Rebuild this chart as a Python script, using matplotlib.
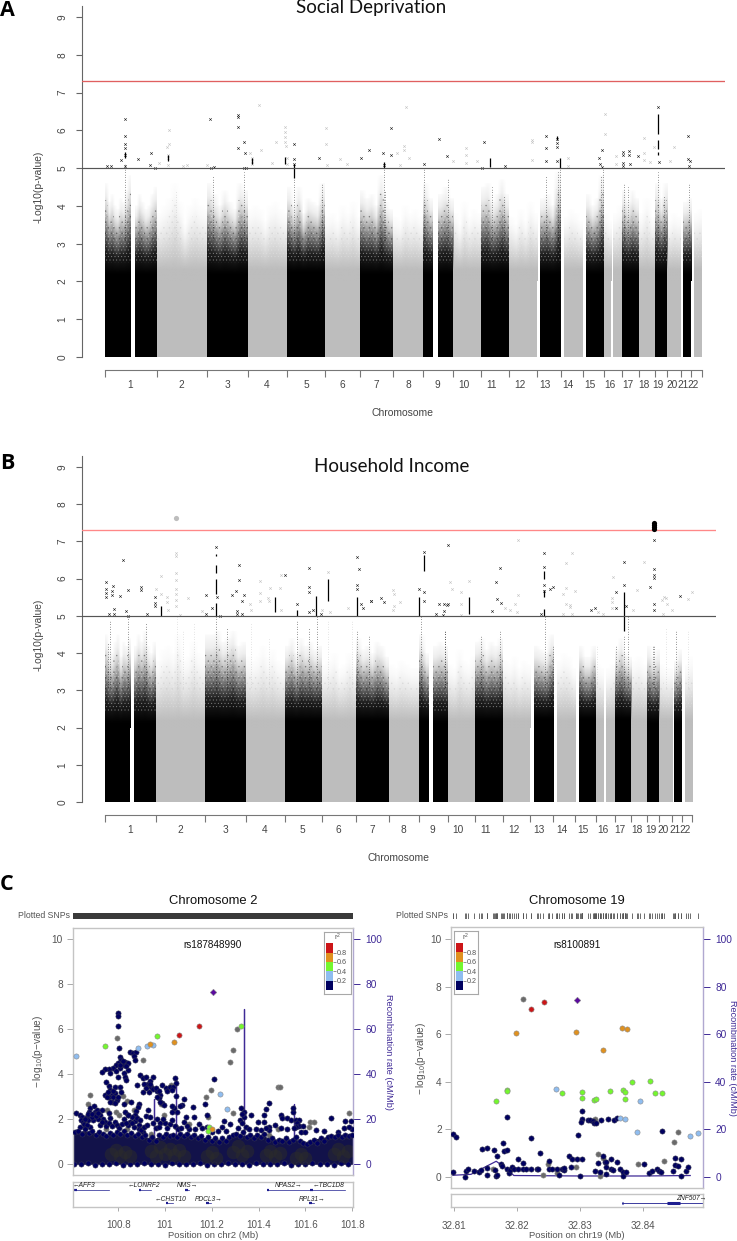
import matplotlib
matplotlib.use("Agg")
import matplotlib.pyplot as plt
import numpy as np
from matplotlib.colors import ListedColormap, BoundaryNorm, to_rgb

W, H = 737, 1241
plt.rcParams['font.family'] = ['Liberation Sans', 'DejaVu Sans']
plt.rcParams['mathtext.default'] = 'regular'
plt.rcParams['hatch.linewidth'] = 0.3

# ---------- Manhattan data ----------
chrom_labels = [str(i) for i in range(1, 23)]
A_bounds = [105, 156.7, 207, 248, 287.3, 325, 360.3, 393.3, 423.3, 453, 480.7, 508.7, 537, 560.7, 583, 603.7, 622.3, 639.3, 655, 667.3, 680.7, 691, 701.7]
A_label_x = [130, 181, 227, 267, 306, 342.3, 376, 408, 437.7, 463.7, 491.3, 519.7, 545.3, 568.3, 590, 610, 627.7, 644.3, 658.3, 671.7, 683.3, 693.3]
A_seg_start = [105, 134.7, 156.7, 207, 248, 287.3, 325, 360.3, 393.3, 423.3, 437.7, 453, 480.7, 508.7, 540.3, 564, 586.3, 603.7, 613, 622.3, 639.3, 655, 667.3, 682.7, 693.7]
A_seg_end = [130.7, 156.7, 207, 248, 287.3, 325, 360.3, 393.3, 423.3, 433.3, 453, 480.7, 508.7, 537, 560.7, 583, 603.7, 611.3, 622.3, 639.3, 655, 667.3, 681, 691, 701.7]
A_seg_dark = [1, 1, 0, 1, 0, 1, 0, 1, 0, 1, 1, 0, 1, 0, 1, 0, 1, 0, 0, 1, 0, 1, 0, 1, 0]
A_solid = [2.2, 2.2, 2.3, 2.2, 2.3, 2.25, 2.3, 2.2, 2.3, 2.2, 2.2, 2.3, 2.2, 2.3, 2.2, 2.3, 2.2, 2.3, 2.3, 2.2, 2.3, 2.2, 2.3, 2.2, 2.3]
A_tops = [[4.6, 4.1, 4.3, 4.0, 3.9, 4.2, 4.1, 4.4, 4.8], [4.0, 4.3, 4.1, 3.9, 4.0, 4.3, 4.5],
          [3.8, 4.0, 4.2, 4.6, 4.1, 3.5, 4.0, 4.2, 4.0, 3.9], [4.6, 4.3, 4.0, 4.4, 4.1, 3.9, 4.6, 4.4],
          [3.9, 4.0, 3.9, 3.6, 4.0, 4.1, 3.9, 3.8], [4.5, 4.0, 4.5, 3.8, 4.2, 4.1, 4.0, 4.6],
          [3.7, 3.8, 3.6, 4.0, 3.8, 4.1, 3.7], [4.4, 4.2, 4.3, 4.0, 4.8, 4.1, 3.9],
          [3.7, 3.6, 4.0, 3.8, 3.9, 3.7], [4.6, 4.2], [4.3, 4.5, 4.2],
          [3.8, 3.5, 4.1, 3.7, 3.9, 3.8], [4.5, 4.6, 4.1, 4.3, 4.7, 4.3], [3.7, 3.5, 3.9, 3.6, 4.1, 3.8],
          [4.2, 4.3, 4.0, 4.9], [3.7, 3.9, 3.8, 3.6], [4.3, 4.0, 4.2, 4.8], [3.8, 3.6], [3.8, 4.0],
          [4.4, 4.1, 4.4, 4.2], [3.8, 4.2, 3.7], [4.6, 4.2, 4.6], [3.6, 3.8, 3.7], [4.1, 4.2], [3.8, 3.9]]
A_spike_x = [125, 213, 244, 294.3, 322, 384, 384.7, 424, 448, 492, 504, 546, 558, 559.8, 601, 603, 624, 628, 658, 664, 689, 176]
A_spike_y = [5.1, 4.8, 4.9, 5.0, 4.6, 5.0, 4.4, 5.0, 4.7, 4.5, 4.3, 4.8, 4.9, 5.0, 4.8, 5.0, 4.6, 4.5, 4.9, 4.3, 4.6, 4.4]
A_black = [(107.3, 5.05), (110.7, 5.05), (121.3, 5.21), (125, 6.29), (125, 5.85), (125, 5.65), (125, 5.54), (125, 5.34), (125, 5.06), (138.3, 5.23), (150, 5.09), (151.3, 5.41), (155, 5.0), (210.3, 6.29), (211.3, 5.01), (214, 5.02), (238, 6.4), (238, 6.34), (238, 6.09), (238, 5.52), (244, 5.7), (245, 5.41), (244.3, 5.01), (245.7, 5.0), (294.3, 5.63), (294.3, 5.25), (294.3, 5.12), (318.7, 5.28), (361.3, 5.28), (369, 5.47), (383.3, 5.4), (391, 6.07), (384, 5.08), (391, 5.35), (424.3, 5.1), (438.7, 5.76), (447.3, 5.31), (481.7, 5.0), (484.3, 5.7), (505, 5.05), (545.7, 5.85), (545.7, 5.53), (545.7, 5.18), (556.7, 5.78), (556.7, 5.67), (556.7, 5.56), (556.7, 5.18), (599, 5.27), (602, 5.48), (600.3, 5.12), (602, 5.04), (623, 5.43), (623, 5.34), (623, 5.14), (623, 5.05), (628.7, 5.46), (628.7, 5.34), (630, 5.1), (638, 5.33), (657.7, 6.62), (659, 5.15), (688, 5.85), (688.3, 5.23), (690, 5.2), (689.3, 5.05)]
A_grey = [(259.3, 6.68), (261, 5.48), (275.7, 5.7), (271.7, 5.14), (250, 5.39), (252, 5.26), (252, 5.19), (252, 5.12), (168.7, 6.0), (168.7, 5.63), (167.3, 5.55), (167.7, 5.36), (167.7, 5.28), (167.7, 5.08), (158.7, 5.13), (182.7, 5.05), (186.7, 5.08), (207, 5.07), (285.3, 6.09), (285.3, 5.96), (285.3, 5.83), (285.3, 5.7), (286, 5.58), (286.7, 5.28), (286.7, 5.12), (326.3, 6.07), (326.3, 5.65), (326.7, 5.08), (340, 5.23), (346.7, 5.1), (406, 6.62), (404.3, 5.59), (404.3, 5.48), (409.3, 5.28), (396.7, 5.4), (400, 5.08), (453.3, 5.2), (466, 5.52), (466, 5.34), (466, 5.14), (477.3, 5.18), (532.3, 5.74), (532.3, 5.68), (532, 5.21), (568.3, 5.26), (568.3, 5.06), (605, 6.44), (605, 5.89), (615.7, 5.33), (615.7, 5.11), (644, 5.79), (644, 5.39), (644, 5.21), (650, 5.15), (673.7, 5.56), (670.3, 5.18), (654.3, 5.55)]
A_col_x = [125, 294.3, 384, 490, 556.7, 560, 657.7, 657.7, 657.7, 284.7, 252, 167.7]
A_col_lo = [5.27, 4.75, 5.0, 5.02, 5.74, 5.0, 5.9, 5.5, 5.35, 5.1, 5.12, 5.2]
A_col_hi = [5.42, 5.1, 5.15, 5.27, 5.85, 5.27, 6.44, 5.74, 5.43, 5.3, 5.26, 5.36]

B_bounds = [105, 155.7, 205.3, 245.7, 284.7, 321.7, 356.3, 389, 418.7, 447.7, 475.3, 502.7, 530, 553.3, 575.3, 596.3, 614.7, 631.3, 647, 659.3, 672.3, 682, 692.3]
B_label_x = [130, 180, 225, 264.7, 302.7, 338.7, 372.3, 403.3, 432.7, 458.3, 485.7, 513.7, 539, 561.7, 582.7, 602.7, 620, 636.7, 650.7, 663.3, 675, 685]
B_seg_start = [105, 134, 155.7, 205.3, 245.7, 284.7, 321.7, 356.3, 389, 418.7, 432.7, 447.7, 475.3, 502.7, 534, 557.3, 579.3, 596.3, 606, 614.7, 631.3, 647, 659.3, 674.3, 685]
B_seg_end = [130, 155.7, 205.3, 245.7, 284.7, 321.7, 356.3, 389, 418.7, 428.7, 447.7, 475.3, 502.7, 530, 554, 575.7, 596.3, 603.7, 614.7, 631.3, 647, 659.3, 672.7, 682.3, 692.7]
B_seg_dark = [1, 1, 0, 1, 0, 1, 0, 1, 0, 1, 1, 0, 1, 0, 1, 0, 1, 0, 0, 1, 0, 1, 0, 1, 0]
B_solid = [2.15, 2.15, 2.2, 2.2, 2.2, 2.2, 2.2, 2.2, 2.2, 2.2, 2.15, 2.2, 2.2, 2.2, 2.25, 2.2, 2.25, 2.2, 2.2, 2.25, 2.2, 2.15, 2.2, 2.15, 2.2]
B_tops = [[4.5, 4.1, 4.0, 4.3, 4.5, 3.9, 4.3, 4.2, 4.4], [4.2, 4.5, 4.3, 4.6, 4.2, 4.0, 4.3],
          [3.8, 4.1, 4.2, 4.0, 4.5, 3.8, 3.9, 4.3, 4.0, 3.9], [4.5, 4.5, 4.6, 4.3, 4.4, 4.6, 4.2, 4.3],
          [3.9, 3.8, 3.9, 4.2, 3.9, 4.1, 3.8, 3.7], [4.2, 4.4, 4.0, 4.4, 4.2, 4.3, 4.1, 4.2],
          [3.7, 3.8, 4.0, 3.6, 3.7, 4.0, 3.7], [4.4, 4.1, 4.2, 4.0, 4.3, 4.2, 3.9],
          [3.7, 3.6, 3.8, 3.7, 3.6, 3.6], [4.5, 4.0], [4.2, 4.3, 4.2],
          [3.7, 3.6, 4.1, 3.8, 3.7, 3.9], [4.3, 4.4, 4.1, 4.3, 4.2, 4.4], [3.8, 3.7, 3.9, 3.6, 3.8, 3.7],
          [4.2, 4.1, 4.0, 4.5], [3.8, 4.0, 3.9, 3.6], [4.2, 3.9, 3.9, 4.2], [3.7, 3.6], [3.6, 3.7],
          [4.1, 4.4, 4.0, 3.9], [3.8, 3.9, 3.7], [4.2, 3.9, 4.1], [3.7, 3.6, 3.6], [3.8, 4.1], [3.7, 3.9]]
B_spike_x = [128.3, 108, 110, 146, 216, 226.7, 297, 309, 316.7, 357.3, 369, 183, 176.7, 194, 251, 269, 420.5, 445, 445.3, 481, 500, 545, 552.5, 597, 616, 623.7, 628, 653, 654, 666.3, 676, 688, 328, 352]
B_spike_y = [5.0, 4.3, 4.9, 4.8, 5.0, 4.7, 4.9, 4.7, 5.0, 4.6, 4.5, 4.6, 5.0, 4.8, 4.8, 4.4, 5.0, 4.6, 4.6, 4.5, 4.6, 5.0, 4.2, 4.2, 4.2, 4.5, 5.0, 4.2, 4.2, 4.7, 4.6, 4.6, 4.9, 4.9]
B_black = [(106.3, 5.92), (106.3, 5.73), (106.3, 5.62), (106.3, 5.51), (112.7, 5.8), (112, 5.68), (111.7, 5.55), (114, 5.18), (114, 5.06), (109, 5.06), (120, 5.53), (122.7, 6.49), (127.7, 5.7), (126.3, 5.12), (128.3, 5.01), (141, 5.77), (141, 5.7), (146.7, 5.04), (155, 5.51), (155, 5.35), (155, 5.26), (206, 5.57), (206, 5.05), (211.7, 5.2), (215.7, 6.84), (220, 5.0), (217.3, 5.51), (232, 5.57), (235.7, 5.68), (239, 6.38), (239, 5.96), (243.7, 5.55), (242, 5.39), (236.7, 5.14), (236.7, 5.04), (242, 5.04), (285, 6.1), (297.3, 5.33), (308.7, 6.3), (308.7, 5.78), (308.7, 5.65), (309, 5.11), (312.7, 5.16), (321, 5.06), (357, 6.57), (359.3, 6.27), (357, 5.84), (357, 5.72), (360.7, 5.33), (362.7, 5.2), (371, 5.41), (370.7, 5.41), (381.3, 5.49), (384.3, 5.36), (419, 5.71), (423.7, 6.72), (423.7, 5.64), (423.7, 5.41), (435.7, 5.06), (439.3, 5.33), (444, 5.31), (447.7, 5.33), (446.7, 5.29), (444, 5.13), (443.3, 5.02), (447.7, 6.91), (491.7, 5.12), (496, 5.9), (497, 5.45), (500, 6.28), (501, 5.35), (541, 5.06), (544.3, 6.68), (544.3, 6.32), (544.3, 5.82), (544.3, 5.68), (550.3, 5.73), (552.7, 5.77), (590.7, 5.15), (594.7, 5.22), (616.3, 5.64), (616.3, 5.2), (624.3, 6.45), (624, 5.82), (626.3, 5.26), (650, 5.77), (654, 7.05), (654, 6.25), (654, 6.09), (654, 6.02), (654, 5.32), (654, 5.16), (680.3, 5.54)]
B_grey = [(176.3, 6.7), (176.3, 6.61), (176.3, 6.14), (176.3, 5.96), (176.3, 5.72), (176.3, 5.58), (176.3, 5.42), (176.3, 5.27), (160.7, 6.06), (160.7, 5.6), (156, 5.72), (166.7, 5.51), (166.7, 5.36), (168, 5.15), (187.7, 5.49), (202.3, 5.14), (180, 5.02), (260.3, 5.93), (260.3, 5.62), (260.3, 5.4), (268.3, 5.48), (269, 5.39), (270.3, 5.75), (281, 6.11), (280.3, 5.74), (250, 5.31), (251, 5.17), (280.7, 5.15), (328.3, 6.18), (321.7, 5.17), (330, 5.1), (348.3, 5.2), (518.3, 7.04), (571.7, 6.7), (566, 6.42), (644.3, 6.45), (469, 5.95), (450, 5.91), (451.7, 5.73), (460.7, 5.63), (460.7, 5.33), (461, 5.02), (393.3, 5.69), (394.3, 5.6), (400.3, 5.36), (394, 5.27), (392.7, 5.15), (518.3, 5.56), (505, 5.2), (510, 5.15), (517, 5.1), (515, 5.33), (566, 5.76), (562.7, 5.6), (566.3, 5.33), (570, 5.3), (570, 5.24), (571.7, 5.04), (575, 5.68), (563.3, 5.05), (612.7, 6.05), (612.3, 5.47), (612.3, 5.36), (612.3, 5.2), (633, 5.15), (603.3, 5.04), (598.3, 5.1), (637, 5.69), (661.7, 5.42), (664, 5.51), (666, 5.47), (666.7, 5.31), (671.7, 5.15), (663.3, 5.05), (688, 5.45), (692.3, 5.63)]
B_col_x = [215.7, 215.7, 215.7, 215.7, 297.3, 316.3, 357, 423.7, 419, 544.3, 544.3, 544.3, 624, 654, 160.7, 275, 328.3, 469]
B_col_lo = [6.6, 6.14, 5.6, 5.0, 5.0, 5.0, 5.0, 6.2, 5.0, 5.98, 5.5, 5.0, 4.6, 7.33, 5.0, 5.1, 5.4, 5.05]
B_col_hi = [6.67, 6.38, 6.0, 5.35, 5.16, 5.53, 5.5, 6.63, 5.5, 6.2, 5.7, 5.18, 5.65, 7.5, 5.27, 5.5, 6.0, 5.5]
B_big_x_grey = [176.3]
B_big_y_grey = [7.63]
B_big_x_black = [654, 654, 654, 654]
B_big_y_black = [7.33, 7.38, 7.45, 7.5]

# ---------- Regional (left, chr2) ----------
L_xlim = (100.606, 101.803)
L_diamond = ([101.207], [7.66])
L_red = ([101.147, 101.059], [6.15, 5.76])
L_orange = ([100.935, 101.04, 101.203], [5.36, 5.42, 1.56])
L_green = ([100.742, 100.968, 101.323, 101.19, 101.182], [5.27, 5.72, 6.16, 1.66, 1.48])
L_lblue = ([100.62, 100.885, 100.924, 100.949, 101.237, 101.267], [4.8, 5.15, 5.26, 5.32, 3.11, 2.44])
L_grey = [(100.797, 5.6), (100.907, 4.62), (101.309, 6.01), (101.289, 5.08), (101.278, 4.53), (101.198, 3.29), (101.177, 2.98), (101.481, 3.42), (101.493, 3.44), (101.289, 2.3), (101.787, 2.27), (101.618, 1.9), (101.638, 1.9), (101.617, 1.64), (101.482, 1.59), (101.446, 1.29), (101.183, 2.09), (100.68, 3.08), (100.672, 2.67), (100.752, 2.41), (100.747, 1.59), (100.837, 2.8), (100.82, 3.04), (100.79, 2.31), (100.805, 2.18), (100.867, 2.41), (100.995, 2.21), (101.026, 3.53), (100.984, 2.67), (100.942, 1.26), (101.048, 1.67), (101.102, 1.78), (100.84, 1.55), (100.71, 2.2), (100.94, 1.35)]
L_navy = [(100.801, 6.73), (100.801, 6.6), (100.801, 6.16), (100.804, 5.16), (100.851, 4.98), (100.863, 4.93), (100.877, 5.0), (100.868, 4.83), (100.871, 4.64), (100.806, 4.79), (100.813, 4.64), (100.83, 4.56), (100.801, 4.49), (100.791, 4.41), (100.823, 4.41), (100.844, 4.52), (100.841, 4.19), (100.806, 4.27), (100.78, 4.27), (100.759, 4.22), (100.744, 4.22), (100.733, 4.12), (100.766, 4.04), (100.823, 4.04), (100.801, 3.88), (100.83, 3.9), (100.833, 3.75), (100.747, 3.66), (100.761, 3.48), (100.787, 3.42), (100.809, 3.42), (100.744, 3.08), (100.766, 3.3), (100.773, 3.08), (100.787, 3.15), (100.811, 3.23), (100.759, 2.98), (100.78, 2.98), (100.794, 2.86), (100.773, 2.78), (100.751, 3.0), (100.766, 2.78), (100.787, 2.74), (100.823, 2.7), (100.856, 2.78), (100.894, 3.97), (100.908, 3.82), (100.92, 3.87), (100.948, 3.9), (100.88, 3.51), (100.906, 3.23), (100.926, 3.57), (100.937, 3.72), (100.94, 3.42), (100.93, 3.23), (100.951, 3.34), (100.966, 3.26), (100.987, 3.53), (101.005, 3.38), (101.022, 3.45), (101.044, 3.82), (101.048, 3.6), (101.035, 3.42), (101.048, 3.04), (100.98, 3.08), (100.973, 2.93), (100.987, 2.71), (100.994, 2.64), (100.98, 2.78), (100.966, 3.0), (101.08, 2.89), (101.073, 2.64), (101.051, 2.34), (101.037, 2.49), (101.03, 2.34), (101.065, 2.59), (101.118, 2.56), (101.03, 2.59), (100.929, 2.41), (100.917, 2.15), (100.937, 2.1), (100.891, 2.68), (100.883, 2.53), (100.877, 2.38), (100.871, 2.19), (100.859, 2.12), (100.844, 2.19), (100.83, 2.34), (100.844, 2.19), (100.85, 1.89), (100.873, 1.93), (100.891, 1.74), (100.887, 1.59), (100.866, 1.67), (100.844, 1.74), (100.905, 1.45), (100.898, 1.52), (100.62, 2.3), (100.637, 2.19), (100.644, 2.12), (100.64, 1.97), (100.651, 1.9), (100.665, 2.12), (100.68, 2.49), (100.677, 2.34), (100.699, 2.59), (100.7, 2.34), (100.708, 2.41), (100.722, 2.19), (100.73, 2.41), (100.763, 2.3), (100.766, 2.04), (100.737, 2.0), (100.716, 2.0), (100.694, 1.97), (100.673, 1.97), (100.687, 2.1), (100.744, 1.9), (100.723, 1.75), (100.68, 1.67), (100.659, 1.67), (100.637, 1.67), (100.966, 2.0), (100.951, 1.82), (100.98, 1.85), (101.0, 1.85), (101.023, 1.78), (101.044, 1.7), (101.08, 1.9), (101.123, 2.12), (101.088, 2.09), (101.144, 1.79), (101.17, 2.67), (101.18, 2.19), (101.16, 1.6), (101.18, 1.67), (101.103, 1.55), (101.208, 3.79), (101.254, 1.94), (101.245, 1.67), (101.278, 1.79), (101.325, 2.52), (101.337, 2.34), (101.322, 1.97), (101.33, 1.82), (101.337, 2.1), (101.369, 2.19), (101.422, 2.19), (101.431, 2.44), (101.444, 2.73), (101.397, 1.9), (101.422, 1.9), (101.387, 1.57), (101.408, 1.52), (101.446, 1.67), (101.446, 1.52), (101.472, 1.75), (101.494, 1.6), (101.496, 2.19), (101.501, 2.07), (101.522, 2.07), (101.539, 1.97), (101.548, 2.34), (101.548, 2.49), (101.558, 1.97), (101.572, 1.97), (101.565, 1.82), (101.572, 1.72), (101.558, 1.67), (101.579, 1.45), (101.6, 1.45), (101.644, 1.52), (101.708, 2.07), (101.768, 1.94), (101.793, 1.93), (101.765, 1.6), (101.8, 1.57),
          (100.655, 1.8), (100.668, 1.75), (100.66, 2.0), (100.672, 2.22), (100.69, 2.25), (100.705, 2.15), (100.715, 2.3), (100.73, 1.9), (100.75, 1.72), (100.76, 1.85), (100.775, 1.7), (100.785, 1.9), (100.795, 1.75), (100.805, 1.62), (100.815, 1.8), (100.825, 2.0), (100.835, 1.85), (100.86, 1.85), (100.88, 2.05), (100.895, 1.95), (100.91, 1.65), (100.925, 1.75), (100.96, 1.6), (100.975, 1.65), (100.99, 2.0), (101.01, 1.6), (101.03, 1.95), (101.055, 1.55), (101.07, 1.62), (101.095, 1.7), (101.13, 1.55), (101.2, 1.45), (101.225, 1.5), (101.26, 1.5), (101.31, 1.6), (101.33, 2.25), (101.345, 1.65), (101.36, 1.55), (101.43, 1.62), (101.52, 1.55), (101.55, 1.6), (101.59, 1.72), (101.68, 1.5), (101.74, 1.45), (101.785, 1.65), (100.91, 3.55), (100.92, 3.4), (100.935, 3.55), (100.96, 3.4), (100.975, 3.25), (101.01, 3.25), (101.03, 3.3), (100.78, 3.25), (100.755, 3.2), (100.8, 3.0), (100.81, 4.4), (100.82, 4.6), (100.79, 4.15), (100.835, 4.35)]
L_band_x = [100.606, 100.65, 100.7, 100.75, 100.8, 100.85, 100.9, 100.95, 101.0, 101.05, 101.1, 101.15, 101.2, 101.25, 101.3, 101.35, 101.4, 101.45, 101.5, 101.55, 101.6, 101.65, 101.7, 101.75, 101.803]
L_band_top = [1.4, 1.5, 1.4, 1.3, 1.4, 1.35, 1.25, 1.15, 1.3, 1.3, 1.3, 1.2, 1.15, 1.1, 1.4, 1.25, 1.35, 1.15, 1.1, 1.15, 0.95, 1.15, 1.25, 1.3, 1.35]
L_dark = [(100.77, 0.45), (100.79, 0.65), (100.81, 0.35), (100.83, 0.55), (100.85, 0.35), (100.94, 0.6), (100.96, 0.35), (100.98, 0.75), (101.0, 0.45), (101.02, 0.7), (101.04, 0.4), (101.06, 0.65), (101.08, 0.35), (101.18, 0.35), (101.2, 0.55), (101.22, 0.3), (101.29, 0.55), (101.31, 0.8), (101.33, 0.4), (101.35, 0.6), (101.43, 0.4), (101.45, 0.6), (101.47, 0.35), (101.49, 0.5), (101.56, 0.3), (101.58, 0.45), (101.6, 0.3), (101.72, 0.45), (101.74, 0.7), (101.76, 0.35), (101.78, 0.6)]
L_floor = [(100.612, 0.03), (100.64, 0.0), (100.67, 0.04), (100.7, -0.01), (100.73, 0.03), (100.76, 0.0), (100.79, 0.04), (100.82, -0.01), (100.85, 0.03), (100.88, 0.0), (100.91, 0.04), (100.94, 0.0), (100.97, 0.03), (101.0, -0.01), (101.03, 0.04), (101.06, 0.0), (101.09, 0.03), (101.12, 0.0), (101.15, 0.04), (101.18, -0.01), (101.21, 0.03), (101.24, 0.0), (101.27, 0.04), (101.3, 0.0), (101.33, 0.03), (101.36, -0.01), (101.39, 0.04), (101.42, 0.0), (101.45, 0.03), (101.48, 0.0), (101.51, 0.04), (101.54, -0.01), (101.57, 0.03), (101.6, 0.0), (101.63, 0.04), (101.66, 0.0), (101.69, 0.03), (101.72, -0.01), (101.75, 0.04), (101.78, 0.0)]
L_top = [(100.615, 1.45), (100.63, 1.5), (100.645, 1.35), (100.66, 1.55), (100.675, 1.4), (100.69, 1.5), (100.705, 1.3), (100.72, 1.45), (100.735, 1.35), (100.75, 1.25), (100.765, 1.4), (100.78, 1.3), (100.795, 1.45), (100.81, 1.35), (100.825, 1.5), (100.84, 1.3), (100.855, 1.4), (100.87, 1.25), (100.885, 1.35), (100.9, 1.2), (100.915, 1.3), (100.93, 1.1), (100.945, 1.2), (100.96, 1.05), (100.975, 1.3), (100.99, 1.2), (101.005, 1.35), (101.02, 1.25), (101.035, 1.3), (101.05, 1.2), (101.065, 1.35), (101.08, 1.25), (101.095, 1.35), (101.11, 1.2), (101.125, 1.3), (101.14, 1.15), (101.155, 1.25), (101.17, 1.1), (101.185, 1.2), (101.2, 1.05), (101.215, 1.15), (101.23, 1.0), (101.245, 1.15), (101.26, 1.05), (101.275, 1.2), (101.29, 1.3), (101.305, 1.35), (101.32, 1.25), (101.335, 1.45), (101.35, 1.2), (101.365, 1.3), (101.38, 1.15), (101.395, 1.3), (101.41, 1.2), (101.425, 1.35), (101.44, 1.1), (101.455, 1.15), (101.47, 1.0), (101.485, 1.1), (101.5, 1.05), (101.515, 1.15), (101.53, 1.0), (101.545, 1.1), (101.56, 1.2), (101.575, 1.05), (101.59, 0.95), (101.605, 0.9), (101.62, 1.0), (101.635, 1.1), (101.65, 0.95), (101.665, 1.15), (101.68, 1.05), (101.695, 1.2), (101.71, 1.25), (101.725, 1.2), (101.74, 1.3), (101.755, 1.2), (101.77, 1.3), (101.785, 1.25), (101.798, 1.3)]
L_recomb_x = [100.954, 100.954, 100.954, 101.046, 101.046, 101.046, 101.338, 101.338, 101.338, 101.552, 101.552, 101.552, 101.803]
L_recomb_y = [0.4, 29, 0.4, 0.4, 39, 0.4, 0.4, 69, 0.4, 0.4, 27, 0.4, 0.4]
L_gene_names = ['AFF3', 'LONRF2', 'NMS', 'NPAS2', 'TBC1D8', 'CHST10', 'PDCL3', 'RPL31']
L_gene_lo = [100.612, 100.887, 101.086, 101.434, 101.619, 101.003, 101.176, 101.615]
L_gene_hi = [100.759, 100.941, 101.103, 101.619, 101.769, 101.036, 101.195, 101.638]
L_gene_row = [0, 0, 0, 0, 0, 1, 1, 1]
L_gene_mid = [100.652, 100.911, 101.096, 101.527, 101.697, 101.022, 101.188, 101.63]
L_gene_arrow = ['l', 'l', 'r', 'r', 'l', 'l', 'r', 'r']

# ---------- Regional (right, chr19) ----------
R_xlim = (32.80957, 32.84948)
R_diamond = ([32.8295], [7.46])
R_red = ([32.8223, 32.8243], [7.08, 7.36])
R_orange = ([32.8198, 32.8293, 32.8366, 32.8374, 32.8337], [6.04, 6.09, 6.25, 6.21, 5.32])
R_green_x = [32.8167, 32.8184, 32.8184, 32.8272, 32.8303, 32.8303, 32.8323, 32.8326, 32.8348, 32.8368, 32.8372, 32.8372, 32.8383, 32.8411, 32.8419, 32.843]
R_green_y = [3.17, 3.65, 3.6, 3.51, 3.55, 3.3, 3.24, 3.29, 3.62, 3.65, 3.58, 3.27, 3.99, 4.02, 3.54, 3.51]
R_lblue = ([32.8262, 32.8396, 32.8363, 32.8372, 32.8391, 32.8474, 32.8487], [3.69, 3.2, 2.46, 2.44, 1.87, 1.73, 1.84])
R_grey_x = [32.8209, 32.8449, 32.8456, 32.8434, 32.8392, 32.8328, 32.8336, 32.8249, 32.8263, 32.8332, 32.8162, 32.8294, 32.8242, 32.8324]
R_grey_y = [7.5, 1.46, 1.88, 0.66, 0.53, 0.94, 0.77, 0.53, 0.17, 0.04, 0.34, 0.39, 0.07, 2.42]
R_navy_x = [32.8098, 32.8103, 32.8098, 32.8117, 32.8119, 32.8123, 32.8132, 32.8139, 32.8143, 32.8144, 32.8152, 32.8153, 32.8152, 32.8163, 32.8169, 32.8166, 32.8169, 32.8165, 32.8175, 32.8176, 32.8177, 32.818, 32.8184, 32.8184, 32.8184, 32.8188, 32.8189, 32.8192, 32.8195, 32.8202, 32.8202, 32.8209, 32.8209, 32.8215, 32.8222, 32.8222, 32.8231, 32.8234, 32.8237, 32.8251, 32.8251, 32.8255, 32.8263, 32.8271, 32.8267, 32.8275, 32.8274, 32.8283, 32.8285, 32.8288, 32.8295, 32.8303, 32.83, 32.8297, 32.8303, 32.8303, 32.8302, 32.8312, 32.8316, 32.832, 32.8322, 32.8325, 32.8334, 32.8345, 32.8354, 32.8358, 32.8324, 32.8332, 32.8328, 32.8336, 32.834, 32.8342, 32.8341, 32.8341, 32.835, 32.835, 32.8353, 32.8359, 32.8364, 32.8369, 32.8369, 32.8373, 32.8402, 32.8409, 32.8414, 32.8423, 32.8426, 32.8429, 32.843, 32.8447, 32.8451, 32.8451, 32.8456, 32.8461, 32.8461, 32.8468, 32.8472]
R_navy_y = [1.8, 1.67, 0.18, 0.0, 0.25, 0.31, 0.24, 0.21, 0.28, 1.15, 1.19, 0.37, 0.08, 1.14, 0.86, 0.03, 0.07, 0.28, 0.55, 0.45, 1.43, 1.1, 1.14, 2.5, 0.34, 0.14, 0.27, 0.42, 0.31, 0.75, 0.31, 0.56, 0.31, 0.34, 1.63, 0.33, 0.34, 0.33, 1.0, 0.68, 0.34, 0.32, 0.31, 0.31, 0.08, 0.28, 0.38, 0.86, 0.39, 0.73, 0.73, 0.76, 0.03, 1.75, 2.76, 2.43, 2.29, 2.37, 2.39, 2.36, 2.28, 2.25, 2.4, 2.41, 2.4, 2.46, 0.24, 0.21, 0.59, 0.88, 0.63, 0.63, 0.42, 0.13, 0.76, 0.32, 0.27, 0.63, 0.34, 0.21, 0.01, 0.2, 0.53, 0.17, 0.24, 0.31, 0.24, 0.18, 1.93, 0.25, 0.77, 0.49, 0.46, 0.76, 0.04, 0.24, 0.39]
R_recomb_x = [32.8098, 32.8127, 32.8145, 32.8167, 32.818, 32.8195, 32.83, 32.84, 32.8475]
R_recomb_y = [0.6, 1.0, 3.5, 6.5, 4.0, 0.5, 0.3, 0.3, 0.5]

colorbar_labels = ['0.2', '0.4', '0.6', '0.8']
C_NAVY, C_BLUE, C_GREEN, C_ORANGE, C_RED = '#000060', '#8fbdf0', '#74f72e', '#e0911f', '#cc1517'
C_GREY, C_PURPLE = '#6a6a6a', '#5b0a9f'
REC = '#3f2a96'
TXT = '#555555'

fig = plt.figure(figsize=(W / 100, H / 100), dpi=100, facecolor='white')


def box(x0, y0, x1, y1, **kw):
    return fig.add_axes([x0 / W, 1 - y1 / H, (x1 - x0) / W, (y1 - y0) / H], **kw)


def xy(pairs):
    return [p[0] for p in pairs], [p[1] for p in pairs]


# fade of the scatter cloud: opacity against relative height between solid top and cloud top
FADE_U = [0, 0.25, 0.5, 0.7, 0.85, 1.0]
FADE_DARK = [1, 0.88, 0.5, 0.2, 0.07, 0.02]
FADE_GREY = [1, 0.72, 0.4, 0.2, 0.08, 0.02]
Y_GRID = np.linspace(2.0, 5.2, 200)


def cloud(ax, s, e, solid, tops, dark):
    rgb = to_rgb('black' if dark else '#bdbdbd')
    img = np.ones((len(Y_GRID), len(tops), 4))
    img[..., :3] = rgb
    for j, t in enumerate(tops):
        u = (Y_GRID - solid) / (t - solid)
        a = np.interp(u, FADE_U, FADE_DARK if dark else FADE_GREY, right=0)
        a[u < 0] = 1
        img[:, j, 3] = a
    ax.imshow(img, extent=(s, e, Y_GRID[0], Y_GRID[-1]), origin='lower', aspect='auto', interpolation='bilinear', zorder=2)


def stipple(ax, s, e, solid, tops, dark):
    c = 'black' if dark else '#bdbdbd'
    width = (e - s) / len(tops)
    for j, t in enumerate(tops):
        xr = [s + j * width, s + (j + 1) * width]
        # white holes in the lower, dark part of the cloud
        ax.fill_between(xr, solid + 0.3, t - 0.75, facecolor='none', edgecolor='white', hatch='.....', lw=0, zorder=2.2,
                        alpha=0.42 if dark else 0.22)
        # sparse dots that carry the cloud above the fade, stepping with the column height
        ax.fill_between(xr, solid + 0.8, t - 0.45, facecolor='none', edgecolor=c, hatch='...', lw=0, zorder=2.1, alpha=0.32)


def manhattan(y_top_px, y_zero_px, x_end, xlab_x, ylab_y, bounds, labels_x, ss, se, dk, solid, tops,
              sx, sy, black, grey, cx, cl, ch, red_col):
    ppu = (y_zero_px - y_top_px) / 9.0
    top_lim = 9.3
    height = top_lim * ppu
    ax = box(81.5, y_zero_px - height, x_end, y_zero_px)
    ax.patch.set_alpha(0)
    for i in range(len(ss)):
        c = 'black' if dk[i] else '#bdbdbd'
        ax.fill_between([ss[i], se[i]], 0, Y_GRID[0], color=c, lw=0, zorder=2)
        cloud(ax, ss[i], se[i], solid[i], tops[i], dk[i])
        stipple(ax, ss[i], se[i], solid[i], tops[i], dk[i])
    for x, y in zip(sx, sy):
        dark = any(ss[j] <= x <= se[j] and dk[j] for j in range(len(ss)))
        ax.plot([x, x], [3.1, y], color='black' if dark else '#c0c0c0', lw=0.45, ls=(0, (1, 3)), zorder=3)
    gx, gy = xy(grey)
    bx, by = xy(black)
    ax.scatter(gx, gy, marker='x', s=3.5, c='#c4c4c4', linewidths=0.4, zorder=4)
    ax.scatter(bx, by, marker='x', s=3.5, c='#222222', linewidths=0.4, zorder=4)
    for x, l, h in zip(cx, cl, ch):
        ax.plot([x, x], [l, h], color='black', lw=0.9, zorder=4, solid_capstyle='butt')
    ax.axhline(5, color='#555555', lw=0.85, zorder=5)
    ax.axhline(-np.log10(5e-8), color=red_col, lw=0.95, zorder=5)
    ax.set_xlim(81.5, x_end)
    ax.set_ylim(0, top_lim)
    for s in ['top', 'right']:
        ax.spines[s].set_visible(False)
    ax.spines['left'].set_color('#666666')
    ax.spines['left'].set_linewidth(0.8)
    ax.spines['bottom'].set_color('#777777')
    ax.spines['bottom'].set_linewidth(0.8)
    ax.spines['bottom'].set_position(('outward', 9.4))
    ax.spines['bottom'].set_bounds(bounds[0], bounds[-1])
    ax.set_yticks(range(10))
    ax.set_yticklabels([str(i) for i in range(10)], rotation=90, va='center', fontsize=7.3, color='#444444')
    ax.tick_params(axis='y', length=4.6, width=0.8, color='#666666', pad=5.5)
    ax.set_xticks(bounds)
    ax.set_xticklabels([])
    ax.tick_params(axis='x', which='major', length=5, width=0.8, color='#777777')
    ax.set_xticks(labels_x, minor=True)
    ax.set_xticklabels(chrom_labels, minor=True, fontsize=7.3, color='#444444')
    ax.tick_params(axis='x', which='minor', length=0, pad=7.2)
    fig.text(39 / W, 1 - ylab_y / H, '-Log10(p-value)', rotation=90, fontsize=7.4, color='#444444', ha='center', va='center')
    fig.text(xlab_x / W, 1 - (y_zero_px + 56) / H, 'Chromosome', fontsize=7.5, color='#444444', ha='center', va='center')
    return ax


axA = manhattan(17, 357, 724.7, 403, 187, A_bounds, A_label_x, A_seg_start, A_seg_end, A_seg_dark, A_solid, A_tops,
                A_spike_x, A_spike_y, A_black, A_grey, A_col_x, A_col_lo, A_col_hi, '#e06060')
axB = manhattan(467, 802, 716, 399, 635, B_bounds, B_label_x, B_seg_start, B_seg_end, B_seg_dark, B_solid, B_tops,
                B_spike_x, B_spike_y, B_black, B_grey, B_col_x, B_col_lo, B_col_hi, '#ff8888')
axB.scatter(B_big_x_grey, B_big_y_grey, s=14, c='#bdbdbd', zorder=6, lw=0)
axB.scatter(B_big_x_black, B_big_y_black, s=14, c='black', zorder=6, lw=0)

fig.text(371.5 / W, 1 - 8 / H, 'Social Deprivation', fontsize=13.5, family=['Lato', 'DejaVu Sans'], ha='center', va='center', color='#111111')
fig.text(392 / W, 1 - 467 / H, 'Household Income', fontsize=13.5, family=['Lato', 'DejaVu Sans'], ha='center', va='center', color='#111111')
for lab, x, y in [('A', 0, 11), ('B', 0, 464), ('C', 0, 885)]:
    fig.text(x / W, 1 - y / H, lab, fontsize=15.5, fontweight='bold', family=['Open Sans', 'DejaVu Sans'], ha='left', va='center', color='black')


def pts(ax, x, y, c, z, s=14, ec='#8a8a8a', m='o'):
    ax.scatter(x, y, s=s, c=c, edgecolors=ec, linewidths=0.4, zorder=z, marker=m)


def regional(pos, xlim, ppu, y0px, title, rs, rs_x, ylab_x, rlab_x):
    x0, y0, x1, y1 = pos
    ax = box(x0, y0, x1, y1)
    ax.set_xlim(xlim)
    ax.set_ylim((y0px - y1) / ppu, (y0px - y0) / ppu)
    ax.set_yticks([0, 2, 4, 6, 8, 10])
    ax.tick_params(axis='y', length=4, width=0.7, color='#aaaaaa', labelsize=7.3, labelcolor=TXT, pad=3)
    ax.set_xticks([])
    for s in ax.spines.values():
        s.set_color('#c4c4c4')
        s.set_linewidth(1.0)
    ax.spines['right'].set_color('#b0a8d0')
    ax2 = ax.twinx()
    ax2.set_ylim(ax.get_ylim()[0] * 10, ax.get_ylim()[1] * 10)
    ax2.set_yticks([0, 20, 40, 60, 80, 100])
    ax2.tick_params(axis='y', length=5, width=0.7, color=REC, labelsize=7.3, labelcolor=REC, pad=4)
    for s in ax2.spines.values():
        s.set_visible(False)
    ax2.set_zorder(ax.get_zorder() - 1)
    ax.patch.set_alpha(0)
    fig.text(ylab_x / W, 1 - (y0px - 5 * ppu) / H, r'$-\,log_{10}$(p$-$value)', rotation=90, fontsize=7.3, color=TXT, ha='center', va='center')
    fig.text(rlab_x / W, 1 - (y0px - 5 * ppu) / H, 'Recombination rate (cM/Mb)', rotation=270, fontsize=6.6, color=REC, ha='center', va='center')
    fig.text((x0 + x1) / 2 / W, 1 - 900.7 / H, title, fontsize=9.4, color='#111111', ha='center', va='center')
    fig.text(rs_x / W, 1 - 944.7 / H, rs, fontsize=7.2, color='#111111', ha='center', va='center')
    return ax, ax2


def legend(x0, y0, x1, y1, sx0, sx1, sy0, sy1):
    b = box(x0, y0, x1, y1)
    b.set_xticks([])
    b.set_yticks([])
    for s in b.spines.values():
        s.set_color('#a8a8a8')
        s.set_linewidth(0.8)
    b.set_zorder(10)
    b.text(0.5, 1 - 6 / (y1 - y0), '$r^2$', transform=b.transAxes, ha='center', va='center', fontsize=5.3, color=TXT)
    c = box(sx0, sy0, sx1, sy1)
    cm = ListedColormap([C_NAVY, C_BLUE, C_GREEN, C_ORANGE, C_RED])
    levels = [0, 0.2, 0.4, 0.6, 0.8, 1.0]
    c.pcolormesh([0, 1], levels, np.array([[0.1], [0.3], [0.5], [0.7], [0.9]]), cmap=cm, norm=BoundaryNorm(levels, 5))
    c.set_xticks([])
    c.yaxis.tick_right()
    c.set_yticks([0.2, 0.4, 0.6, 0.8])
    c.set_yticklabels(colorbar_labels)
    c.tick_params(axis='y', length=1.8, width=0.5, color='#666666', labelsize=5.2, labelcolor=TXT, pad=1)
    for s in c.spines.values():
        s.set_visible(False)
    c.set_zorder(11)


def genebox(x0, y0, x1, y1, xlim, xt, xtl, xlabel, xlabel_x):
    g = box(x0, y0, x1, y1)
    g.set_xlim(xlim)
    g.set_ylim(0, 1)
    g.set_yticks([])
    g.set_xticks(xt)
    g.set_xticklabels(xtl)
    g.tick_params(axis='x', length=3.2, width=0.7, color='#aaaaaa', labelsize=7.1, labelcolor=TXT, pad=6.5)
    for s in g.spines.values():
        s.set_color('#c4c4c4')
        s.set_linewidth(1.0)
    fig.text(xlabel_x / W, 1 - 1235.3 / H, xlabel, fontsize=6.8, color=TXT, ha='center', va='center')
    return g


# --- left regional
axL, axL2 = regional((72.7, 928.3, 353, 1175), L_xlim, 22.5, 1164.3, 'Chromosome 2', 'rs187848990', 213, 38, 388)
axL2.plot(L_recomb_x, L_recomb_y, color=REC, lw=0.9, zorder=1)
axL.fill_between(L_band_x, 0, L_band_top, color='#12124a', lw=0, zorder=2)
ldx, ldy = xy(L_dark)
lfx, lfy = xy(L_floor)
lgx, lgy = xy(L_grey)
lnx, lny = xy(L_navy)
ltx, lty = xy(L_top)
pts(axL, lfx, lfy, C_NAVY, 2.1, ec='#33334f')
axL.scatter(ldx, ldy, s=95, c='#2b2b2b', alpha=0.55, linewidths=0, zorder=2.2)
pts(axL, lgx, lgy, C_GREY, 3)
pts(axL, lnx, lny, C_NAVY, 4, ec='#33334f')
pts(axL, ltx, lty, C_NAVY, 4, ec='#33334f')
pts(axL, L_lblue[0], L_lblue[1], C_BLUE, 5)
pts(axL, L_green[0], L_green[1], C_GREEN, 5)
pts(axL, L_orange[0], L_orange[1], C_ORANGE, 5)
pts(axL, L_red[0], L_red[1], C_RED, 5)
pts(axL, L_diamond[0], L_diamond[1], C_PURPLE, 6, m='D', s=11)
legend(324, 931.7, 350.7, 994.3, 325.7, 333.3, 943.3, 990)

sL = box(72.7, 913, 353.5, 919)
sL.set_xlim(L_xlim)
sL.axvspan(*L_xlim, color='#3a3a3a', lw=0)
sL.axis('off')
fig.text(70.5 / W, 1 - 916 / H, 'Plotted SNPs', fontsize=6.3, color=TXT, ha='right', va='center')

gL = genebox(72.7, 1181.7, 353, 1206.7, L_xlim, [100.8, 101, 101.2, 101.4, 101.6, 101.8],
             ['100.8', '101', '101.2', '101.4', '101.6', '101.8'], 'Position on chr2 (Mb)', 213.5)
gene_y = [0.68, 0.14]
label_y = [0.83, 0.29]
for n, lo, hi, r, m, a in zip(L_gene_names, L_gene_lo, L_gene_hi, L_gene_row, L_gene_mid, L_gene_arrow):
    gL.plot([lo, hi], [gene_y[r]] * 2, color='#1d1d90', lw=0.5)
    gL.plot([lo, min(lo + 0.012, hi)], [gene_y[r]] * 2, color='#1d1d90', lw=1.6, solid_capstyle='butt')
    s = ('\u2190' + n) if a == 'l' else (n + '\u2192')
    gL.text(m, label_y[r], s, fontsize=4.8, style='italic', color='#222222', ha='center', va='center')

# --- right regional
axR, axR2 = regional((451.3, 927.3, 702.7, 1188), R_xlim, 23.74, 1176.7, 'Chromosome 19', 'rs8100891', 577, 420.7, 733)
axR2.plot(R_recomb_x, R_recomb_y, color=REC, lw=0.9, zorder=1)
pts(axR, R_grey_x, R_grey_y, C_GREY, 3)
pts(axR, R_navy_x, R_navy_y, C_NAVY, 4, ec='#33334f')
pts(axR, R_lblue[0], R_lblue[1], C_BLUE, 5)
pts(axR, R_green_x, R_green_y, C_GREEN, 5)
pts(axR, R_orange[0], R_orange[1], C_ORANGE, 5)
pts(axR, R_red[0], R_red[1], C_RED, 5)
pts(axR, R_diamond[0], R_diamond[1], C_PURPLE, 6, m='D', s=11)
legend(454, 931, 477.7, 994.3, 455.7, 462.7, 942.7, 990)

sR = box(451.3, 912.7, 702.7, 918.7)
sR.set_xlim(R_xlim)
sR.set_ylim(0, 1)
sR.vlines(R_navy_x + R_green_x + R_grey_x + R_orange[0] + R_lblue[0], 0, 1, color='#555555', lw=0.6)
sR.axis('off')
fig.text(448.5 / W, 1 - 916 / H, 'Plotted SNPs', fontsize=6.3, color=TXT, ha='right', va='center')

gR = genebox(451.3, 1194, 702.7, 1207.3, R_xlim, [32.81, 32.82, 32.83, 32.84], ['32.81', '32.82', '32.83', '32.84'], 'Position on chr19 (Mb)', 577)
gR.plot([32.8366, 32.8495], [0.3, 0.3], color='#1d1d90', lw=0.6)
gR.plot([32.8438, 32.8458], [0.3, 0.3], color='#1d1d90', lw=2.2, solid_capstyle='butt')
gR.plot([32.8366, 32.8368], [0.3, 0.3], color='#1d1d90', lw=2.2, solid_capstyle='butt')
gR.text(32.8476, 0.68, 'ZNF507\u2192', fontsize=4.8, style='italic', color='#222222', ha='center', va='center')

fig.savefig('out.png', dpi=100, facecolor='white')
